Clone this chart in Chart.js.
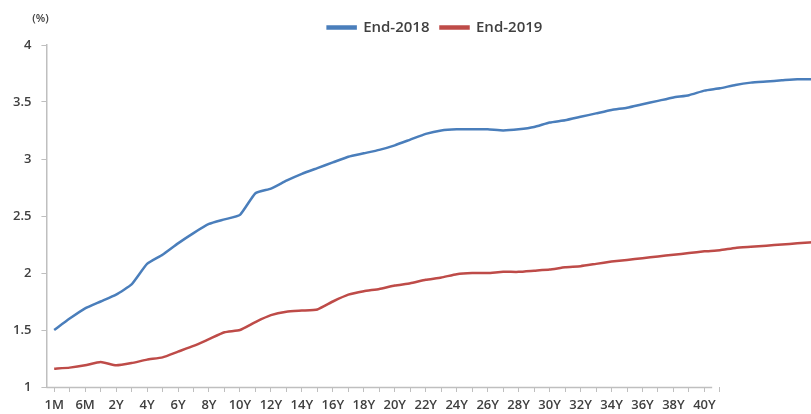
<!DOCTYPE html>
<html>
<head>
<meta charset="utf-8">
<script src="https://cdn.jsdelivr.net/npm/chart.js@4.4.1/dist/chart.umd.min.js"></script>
<style>
  html, body { margin: 0; padding: 0; background: #fff; overflow: hidden; }
  #wrap { width: 870px; height: 414px; }
</style>
</head>
<body>
<div id="wrap"><canvas id="curve"></canvas></div>
<script>
// tenors: 1M, 3M, 6M, 1Y, then every year 2Y..50Y
const tenors = ['1M', '3M', '6M', '1Y'];
for (let y = 2; y <= 50; y++) tenors.push(y + 'Y');

// only every other tenor is labelled, up to 40Y
const lastLabelled = '40Y';

const end2018 = [
  1.50, 1.60, 1.69, 1.75, 1.81, 1.90, 2.08, 2.16, 2.26, 2.35,
  2.43, 2.47, 2.51, 2.70, 2.74, 2.81, 2.87, 2.92, 2.97, 3.02,
  3.05, 3.08, 3.12, 3.17, 3.22, 3.25, 3.26, 3.26, 3.26, 3.25,
  3.26, 3.28, 3.32, 3.34, 3.37, 3.40, 3.43, 3.45, 3.48, 3.51,
  3.54, 3.56, 3.60, 3.62, 3.65, 3.67, 3.68, 3.69, 3.70, 3.70,
  3.71, 3.71, 3.72
];

const end2019 = [
  1.16, 1.17, 1.19, 1.22, 1.19, 1.21, 1.24, 1.26, 1.31, 1.36,
  1.42, 1.48, 1.50, 1.57, 1.63, 1.66, 1.67, 1.68, 1.75, 1.81,
  1.84, 1.86, 1.89, 1.91, 1.94, 1.96, 1.99, 2.00, 2.00, 2.01,
  2.01, 2.02, 2.03, 2.05, 2.06, 2.08, 2.10, 2.115, 2.13, 2.145,
  2.16, 2.175, 2.19, 2.20, 2.22, 2.23, 2.24, 2.25, 2.26, 2.27,
  2.28, 2.29, 2.30
];

const yTicks = [1, 1.5, 2, 2.5, 3, 3.5, 4];

const axisGrey = '#bfbfbf';
const textGrey = '#404040';
const tickFont = { family: 'Open Sans', size: 13, weight: '600', lineHeight: 1 };
const cutIdx = tenors.indexOf(lastLabelled);

// unit caption above the value axis + x axis line that stops after 40Y
const extras = {
  id: 'extras',
  afterDraw(chart) {
    const { ctx, chartArea } = chart;
    const x = chart.scales.x;
    const y = chart.scales.y;
    ctx.save();
    ctx.fillStyle = textGrey;
    ctx.font = '600 11px "Open Sans"';
    ctx.textAlign = 'center';
    ctx.textBaseline = 'middle';
    ctx.fillText('(%)', y.right - 6, chartArea.top - 26);

    const half = (x.getPixelForValue(1) - x.getPixelForValue(0)) / 2;
    ctx.strokeStyle = axisGrey;
    ctx.lineWidth = 1.5;
    ctx.beginPath();
    ctx.moveTo(chartArea.left, chartArea.bottom + 0.5);
    ctx.lineTo(x.getPixelForValue(cutIdx) + half, chartArea.bottom + 0.5);
    ctx.stroke();
    ctx.restore();
  }
};

new Chart(document.getElementById('curve'), {
  type: 'line',
  data: {
    labels: tenors,
    datasets: [
      { label: 'End-2018', data: end2018, borderColor: '#4a7ebb', backgroundColor: '#4a7ebb' },
      { label: 'End-2019', data: end2019, borderColor: '#be4b48', backgroundColor: '#be4b48' }
    ]
  },
  options: {
    responsive: true,
    maintainAspectRatio: false,
    animation: false,
    layout: { padding: { left: 3, right: 3, top: 9, bottom: 2 } },
    elements: {
      point: { radius: 0 },
      line: { borderWidth: 2.5, tension: 0.15 }
    },
    plugins: {
      tooltip: { enabled: false },
      legend: {
        position: 'top',
        labels: {
          color: textGrey,
          font: { family: 'Open Sans', size: 15, weight: '600' },
          boxWidth: 28,
          boxHeight: 2,
          padding: 11
        }
      }
    },
    scales: {
      x: {
        offset: true,
        border: { display: false },
        afterFit: scale => { scale.height = 25; },
        grid: {
          drawOnChartArea: false,
          tickLength: 5,
          color: ctx => (ctx.index <= cutIdx + 1 ? axisGrey : 'rgba(0,0,0,0)')
        },
        ticks: {
          autoSkip: false,
          maxRotation: 0,
          padding: 7,
          color: textGrey,
          font: tickFont,
          callback: (v, i) => (i % 2 === 0 && i <= cutIdx ? tenors[i] : '')
        }
      },
      y: {
        min: 1,
        max: 4,
        border: { color: axisGrey, width: 1.5 },
        grid: { drawOnChartArea: false, tickLength: 5, color: axisGrey },
        afterBuildTicks: scale => { scale.ticks = yTicks.map(v => ({ value: v })); },
        ticks: {
          padding: 10,
          color: textGrey,
          font: tickFont,
          callback: v => String(v)
        }
      }
    }
  },
  plugins: [extras]
});
</script>
</body>
</html>
